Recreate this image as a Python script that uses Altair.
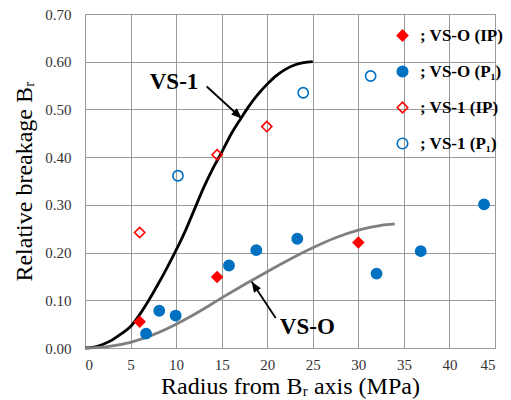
import altair as alt
import pandas as pd

# ---------------- data ----------------
series_names = ["; VS-O (IP)", "; VS-O (P₁)", "; VS-1 (IP)", "; VS-1 (P₁)"]

vso_ip_x = [6.0, 14.5, 30.0]
vso_ip_y = [0.055, 0.149, 0.221]
vso_p1_x = [6.7, 8.15, 9.95, 15.8, 18.8, 23.3, 32.0, 36.85, 43.8]
vso_p1_y = [0.030, 0.078, 0.068, 0.173, 0.205, 0.229, 0.156, 0.203, 0.301]
vs1_ip_x = [6.0, 14.5, 19.95]
vs1_ip_y = [0.242, 0.405, 0.464]
vs1_p1_x = [10.2, 23.95, 31.35]
vs1_p1_y = [0.361, 0.535, 0.570]

vs1_curve_x = [0, 1, 2, 3, 4, 5, 6, 7, 8, 9, 10, 11, 12, 13, 14, 15, 16, 17,
               18, 19, 20, 21, 22, 23, 24, 25]
vs1_curve_y = [0.0, 0.002, 0.008, 0.017, 0.030, 0.045, 0.070, 0.100, 0.133,
               0.168, 0.205, 0.245, 0.290, 0.335, 0.375, 0.410, 0.447, 0.478,
               0.507, 0.532, 0.553, 0.571, 0.584, 0.593, 0.598, 0.600]
vso_curve_x = [0, 2.5, 5, 7.5, 10, 12.5, 15, 17.5, 20, 22.5, 25, 27.5, 30, 32.5, 34]
vso_curve_y = [0.0, 0.003, 0.012, 0.028, 0.050, 0.076, 0.105, 0.133, 0.160,
               0.186, 0.210, 0.231, 0.247, 0.257, 0.260]

label_text = ["VS-1", "VS-O"]
label_x = [9.77, 24.4]
label_y = [0.557, 0.045]

arrow1_x = [13.36]
arrow1_y = [0.548]
arrow1_x2 = [17.2]
arrow1_y2 = [0.481]
arrow2_x = [20.93]
arrow2_y = [0.063]
arrow2_x2 = [18.3]
arrow2_y2 = [0.139]

x_ticks = [0, 5, 10, 15, 20, 25, 30, 35, 40, 45]
y_ticks = [0.0, 0.1, 0.2, 0.3, 0.4, 0.5, 0.6, 0.7]

# ---------------- tables ----------------
pts = pd.concat([
    pd.DataFrame({"x": vso_ip_x, "y": vso_ip_y, "series": series_names[0]}),
    pd.DataFrame({"x": vso_p1_x, "y": vso_p1_y, "series": series_names[1]}),
    pd.DataFrame({"x": vs1_ip_x, "y": vs1_ip_y, "series": series_names[2]}),
    pd.DataFrame({"x": vs1_p1_x, "y": vs1_p1_y, "series": series_names[3]}),
], ignore_index=True)

vs1_df = pd.DataFrame({"x": vs1_curve_x, "y": vs1_curve_y})
vso_df = pd.DataFrame({"x": vso_curve_x, "y": vso_curve_y})
lab_df = pd.DataFrame({"x": label_x, "y": label_y, "t": label_text})
a1_df = pd.DataFrame({"x": arrow1_x, "y": arrow1_y, "x2": arrow1_x2, "y2": arrow1_y2})
a2_df = pd.DataFrame({"x": arrow2_x, "y": arrow2_y, "x2": arrow2_x2, "y2": arrow2_y2})

SERIF = "Liberation Serif"
RED = "#FF0000"
BLUE = "#0070C0"
GRID = "#999999"

xscale = alt.Scale(domain=[0, 45], nice=False, zero=False)
yscale = alt.Scale(domain=[0, 0.7], nice=False, zero=False)

xaxis = alt.Axis(values=x_ticks, title="Radius from Bᵣ axis (MPa)",
                 labelPadding=9, titleBaseline="alphabetic", titleY=45,
                 titleX=205, titleAlign="center")
yaxis = alt.Axis(values=y_ticks, format=".2f", title="Relative breakage Bᵣ",
                 labelPadding=14, titleAngle=-90, titleBaseline="alphabetic",
                 titleAlign="center", titleX=-54, titleY=167)

X = alt.X("x:Q", scale=xscale, axis=xaxis)
Y = alt.Y("y:Q", scale=yscale, axis=yaxis)
Xn = alt.X("x:Q", scale=xscale)
Yn = alt.Y("y:Q", scale=yscale)
X2n = alt.X("x2:Q", scale=xscale)
Y2n = alt.Y("y2:Q", scale=yscale)

vs1_line = alt.Chart(vs1_df).mark_line(color="black", strokeWidth=2.8,
                                        interpolate="monotone").encode(x=X, y=Y)
vso_line = alt.Chart(vso_df).mark_line(color="#7F7F7F", strokeWidth=2.8,
                                        interpolate="monotone").encode(x=Xn, y=Yn)

shaft1 = alt.Chart(a1_df).mark_rule(color="black", strokeWidth=1.8).encode(
    x=Xn, y=Yn, x2="x2:Q", y2="y2:Q")
shaft2 = alt.Chart(a2_df).mark_rule(color="black", strokeWidth=1.8).encode(
    x=Xn, y=Yn, x2="x2:Q", y2="y2:Q")

HEAD = "M0,0L0.4,1L-0.4,1Z"
head1 = alt.Chart(a1_df).mark_point(shape=HEAD, filled=True, color="black", size=440,
                                    opacity=1, angle=133).encode(x=X2n, y=Y2n)
head2 = alt.Chart(a2_df).mark_point(shape=HEAD, filled=True, color="black", size=440,
                                    opacity=1, angle=327).encode(x=X2n, y=Y2n)

labels = alt.Chart(lab_df).mark_text(font=SERIF, fontSize=23, fontWeight="bold",
                                     color="black", align="center",
                                     baseline="middle").encode(x=Xn, y=Yn, text="t:N")

leg = alt.Legend(title=None, orient="none", legendX=309, legendY=13, padding=0,
                 labelFont=SERIF, labelFontSize=17, labelFontWeight="bold",
                 labelColor="black", symbolSize=110, symbolStrokeWidth=1.6,
                 rowPadding=18, labelOffset=9, labelLimit=200)

scatter = alt.Chart(pts).mark_point(size=105, strokeWidth=1.6, opacity=1).encode(
    x=Xn, y=Yn,
    shape=alt.Shape("series:N", scale=alt.Scale(domain=series_names,
                    range=["diamond", "circle", "diamond", "circle"]), legend=leg),
    stroke=alt.Stroke("series:N", scale=alt.Scale(domain=series_names,
                      range=[RED, BLUE, RED, BLUE]), legend=leg),
    fill=alt.Fill("series:N", scale=alt.Scale(domain=series_names,
                  range=[RED, BLUE, "transparent", "transparent"]), legend=leg),
)

chart = alt.layer(vs1_line, vso_line, shaft1, shaft2, head1, head2, labels, scatter).properties(
    width=410, height=334,
    autosize=alt.AutoSizeParams(type="none"),
    padding={"left": 85, "top": 14, "right": 16, "bottom": 52},
    background="white",
).configure_view(stroke=GRID, strokeWidth=1).configure_axis(
    grid=True, gridColor=GRID, gridWidth=1, domain=False, ticks=False, tickSize=0,
    labelFont=SERIF, labelFontSize=15, labelColor="#333333",
    titleFont=SERIF, titleFontSize=24, titleFontWeight="normal", titleColor="black",
).configure_legend(
    labelFont=SERIF, labelFontSize=17, labelFontWeight="bold", labelColor="black",
)

chart.save("out.html", embed_options={"renderer": "svg", "actions": False})
